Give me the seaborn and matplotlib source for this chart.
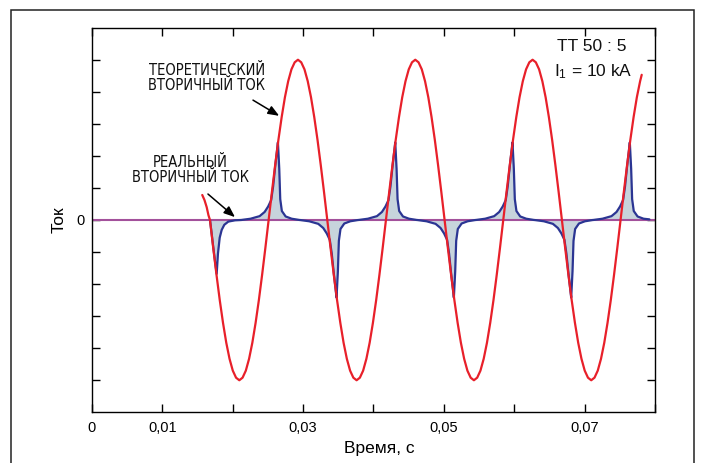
import numpy as np
import pandas as pd
import matplotlib
matplotlib.use("Agg")
import matplotlib.pyplot as plt
from matplotlib import font_manager as fm
from matplotlib.patches import Rectangle
import seaborn as sns

# ---- data -------------------------------------------------------------
# theoretical secondary current: lead-in points, then samples every 10 deg of 60 Hz
red_t_head = [0.01567, 0.01599, 0.01630, 0.01655]
red_v_head = [0.78, 0.62, 0.40, 0.15]
red_t0 = 0.016767
red_step = 0.000463
red_v_grid = [
    0, -0.87, -1.71, -2.50, -3.21, -3.83, -4.33, -4.70, -4.92, -5.00, -4.92, -4.70, -4.33, -3.83, -3.21, -2.50, -1.71, -0.87,
    0, 0.87, 1.71, 2.50, 3.21, 3.83, 4.33, 4.70, 4.92, 5.00, 4.92, 4.70, 4.33, 3.83, 3.21, 2.50, 1.71, 0.87,
    0, -0.87, -1.71, -2.50, -3.21, -3.83, -4.33, -4.70, -4.92, -5.00, -4.92, -4.70, -4.33, -3.83, -3.21, -2.50, -1.71, -0.87,
    0, 0.87, 1.71, 2.50, 3.21, 3.83, 4.33, 4.70, 4.92, 5.00, 4.92, 4.70, 4.33, 3.83, 3.21, 2.50, 1.71, 0.87,
    0, -0.87, -1.71, -2.50, -3.21, -3.83, -4.33, -4.70, -4.92, -5.00, -4.92, -4.70, -4.33, -3.83, -3.21, -2.50, -1.71, -0.87,
    0, 0.87, 1.71, 2.50, 3.21, 3.83, 4.33, 4.70, 4.92, 5.00, 4.92, 4.70, 4.33, 3.83, 3.21, 2.50, 1.71, 0.87,
    0, -0.87, -1.71, -2.50, -3.21, -3.83, -4.33, -4.70, -4.92, -5.00, -4.92, -4.70, -4.33, -3.83, -3.21, -2.50, -1.71, -0.87,
    0, 0.87, 1.71, 2.50, 3.21, 3.83, 4.33,
]
red_t_tail = [0.07811]
red_v_tail = [4.53]

# real secondary current: first (partial) pulse
blue_t_head = [0.016767, 0.01700, 0.01725, 0.01750, 0.01772, 0.01790, 0.01815,
               0.01843, 0.01880, 0.01937, 0.02032, 0.02120]
blue_v_head = [0.00, -0.42, -0.88, -1.32, -1.68, -1.05, -0.55,
               -0.31, -0.15, -0.05, -0.01, 0.00]
# shape of one saturation pulse, offsets from the zero crossing of the primary
pulse_offset = [-0.00389, -0.00256, -0.00128, -0.00057, -0.00007, 0.00036, 0.00064, 0.00092,
                0.00118, 0.00132, 0.00151, 0.00165, 0.00188, 0.00242, 0.00327, 0.00439]
pulse_shape = [0.00, 0.04, 0.12, 0.25, 0.42, 0.62, 1.05, 1.65,
               2.15, 2.42, 1.60, 0.65, 0.28, 0.11, 0.04, 0.00]
crossing_t = [0.02510, 0.03343, 0.04177, 0.05010, 0.05843, 0.06677, 0.07510]
crossing_sign = [1, -1, 1, -1, 1, -1, 1]
blue_t_end = 0.0792
blue_v_end = 0.02

x_ticks = [0, 0.01, 0.02, 0.03, 0.04, 0.05, 0.06, 0.07, 0.08]
x_tick_labels = ["0", "0,01", "", "0,03", "", "0,05", "", "0,07", ""]
y_ticks = [-5, -4, -3, -2, -1, 0, 1, 2, 3, 4, 5]

# ---- assemble series --------------------------------------------------
red_t = red_t_head + list(red_t0 + red_step * np.arange(len(red_v_grid))) + red_t_tail
red_v = red_v_head + red_v_grid + red_v_tail
red_df = pd.DataFrame({"t": red_t, "i": red_v})

bt, bv = list(blue_t_head), list(blue_v_head)
for tz, s in zip(crossing_t, crossing_sign):
    for o, m in zip(pulse_offset, pulse_shape):
        if tz + o <= blue_t_end:
            bt.append(tz + o)
            bv.append(s * m)
bt.append(blue_t_end)
bv.append(blue_v_end)
blue_df = pd.DataFrame({"t": bt, "i": bv})

# ---- style ------------------------------------------------------------
sns.set_theme(style="white")
names = {f.name for f in fm.fontManager.ttflist}
narrow = "Liberation Sans Narrow" if "Liberation Sans Narrow" in names else "DejaVu Sans"
narrow_stretch = "normal" if narrow == "Liberation Sans Narrow" else "condensed"
plt.rcParams["font.family"] = ["Liberation Sans", "DejaVu Sans"]

RED = "#e8202a"
BLUE = "#2b3593"
FILL = "#c7d4dc"
PURPLE = "#a3519b"

fig = plt.figure(figsize=(7.01, 4.63), dpi=100)
ax = fig.add_axes([0.1312, 0.1095, 0.8032, 0.8307])

ax.fill_between(blue_df["t"], blue_df["i"], 0, color=FILL, lw=0, zorder=1)
ax.axhline(0, color=PURPLE, lw=1.5, zorder=2)
sns.lineplot(data=blue_df, x="t", y="i", color=BLUE, lw=1.6, estimator=None,
             sort=False, ax=ax, zorder=3)
sns.lineplot(data=red_df, x="t", y="i", color=RED, lw=1.6, estimator=None,
             sort=False, ax=ax, zorder=4)

ax.set_xlim(0, 0.08)
ax.set_ylim(-6, 6)
ax.set_xticks(x_ticks)
ax.set_xticklabels(x_tick_labels)
ax.set_yticks(y_ticks)
ax.set_yticklabels(["0" if v == 0 else "" for v in y_ticks])
ax.tick_params(direction="in", length=6, width=1, bottom=True, left=True,
               top=True, right=True, labelsize=10.5, colors="black", pad=6)
ax.tick_params(axis="y", pad=5)
for sp in ax.spines.values():
    sp.set_color("black")
    sp.set_linewidth(1.0)

ax.set_xlabel("Время, с", fontsize=12.5, color="black")
ax.set_ylabel("Ток", fontsize=12.5, color="black")
ax.xaxis.set_label_coords(0.51, -0.075)
ax.yaxis.set_label_coords(-0.045, 0.5)

# annotations
ann = dict(fontsize=10.5, family=narrow, stretch=narrow_stretch, ha="center",
           va="center", linespacing=1.0, color="#111111")
ax.text(0.01634, 4.42, "ТЕОРЕТИЧЕСКИЙ\nВТОРИЧНЫЙ ТОК", **ann)
ax.text(0.01393, 1.55, "РЕАЛЬНЫЙ\nВТОРИЧНЫЙ ТОК", **ann)
arrow = dict(arrowstyle="-|>,head_length=0.55,head_width=0.22", color="black",
             lw=1.1, shrinkA=0, shrinkB=0)
ax.annotate("", xy=(0.02660, 3.25), xytext=(0.02288, 3.74), arrowprops=arrow, zorder=5)
ax.annotate("", xy=(0.02032, 0.09), xytext=(0.01648, 0.81), arrowprops=arrow, zorder=5)

ax.text(0.0710, 5.4, "TT 50 : 5", fontsize=12.5, ha="center", va="center", color="#111111")
ax.text(0.0712, 4.62, r"$\mathregular{I_1}$ = 10 kA", fontsize=12.5, ha="center",
        va="center", color="#111111")

# outer frame
fig.patches.append(Rectangle((11 / 701, -0.05), (694 - 11) / 701, 1.05 - 10 / 463,
                             transform=fig.transFigure, fill=False, lw=1.1,
                             edgecolor="#222222", clip_on=False))

fig.savefig("out.png", dpi=100)
